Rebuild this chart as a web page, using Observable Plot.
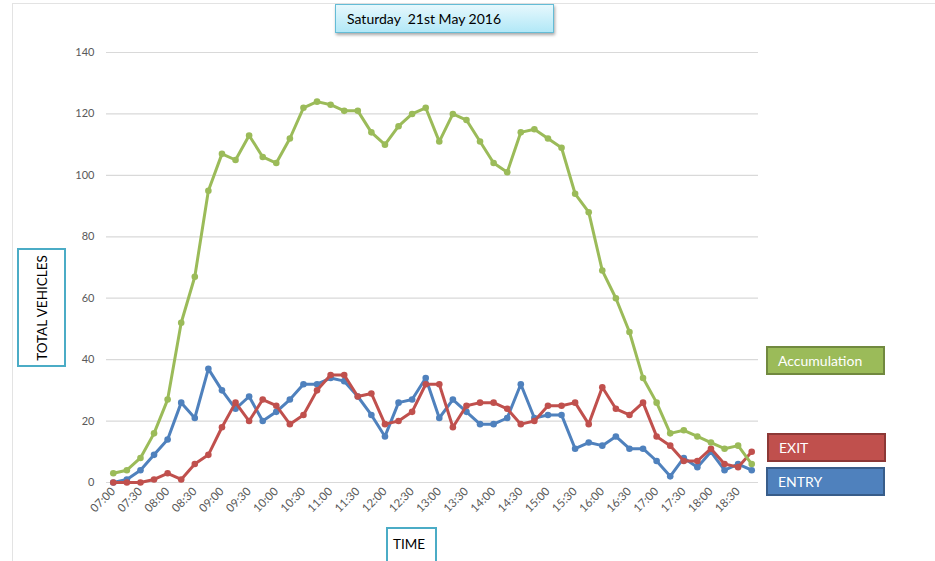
<!DOCTYPE html>
<html>
<head>
<meta charset="utf-8">
<script src="https://cdn.jsdelivr.net/npm/d3@7"></script>
<script src="https://cdn.jsdelivr.net/npm/@observablehq/plot@0.6"></script>
<style>
  html, body { margin: 0; padding: 0; background: #fff; }
  #wrap { position: relative; width: 935px; height: 561px; overflow: hidden; font-family: Lato, "Open Sans", sans-serif; }
  #frame { position: absolute; left: 12px; top: 3px; width: 940px; height: 600px; border-left: 1px solid #e3e3e3; border-top: 1px solid #e3e3e3; }
  #chart { position: absolute; left: 0; top: 0; }
  .box { position: absolute; box-sizing: border-box; font-size: 14px; }
  #title { left: 335px; top: 4px; width: 219px; height: 29px; border: 1px solid #64bcd6;
           background: linear-gradient(#e6f8fd, #b2e8f7); box-shadow: 1px 2px 3px rgba(0,0,0,0.35);
           color: #000; padding: 5px 0 0 11px; }
  #ylab { left: 17px; top: 248px; width: 49px; height: 119px; border: 2px solid #4bacc6; background: #fff; font-size: 13.5px; }
  #ylab span { position: absolute; left: 50%; top: 50%; transform: translate(-50%, -50%) rotate(-90deg); white-space: nowrap; color: #000; }
  #xlab { left: 386px; top: 527px; width: 51px; height: 40px; border: 2px solid #4bacc6; background: #fff; color: #000; padding: 7px 0 0 5px; font-size: 13.5px; }
  .leg { color: #fff; padding: 4px 0 0 10px; border: 2px solid; }
  #legA { left: 766px; top: 346px; width: 119px; height: 29px; background: #9bbb59; border-color: #71893f; }
  #legX { left: 767px; top: 433px; width: 119px; height: 29px; background: #c0504d; border-color: #8c3836; }
  #legE { left: 766px; top: 467px; width: 119px; height: 29px; background: #4f81bd; border-color: #385d8a; }
</style>
</head>
<body>
<div id="wrap">
  <div id="frame"></div>
  <div id="chart"></div>
  <div class="box" id="title">Saturday&nbsp; 21st May 2016</div>
  <div class="box" id="ylab"><span>TOTAL VEHICLES</span></div>
  <div class="box" id="xlab">TIME</div>
  <div class="box leg" id="legA">Accumulation</div>
  <div class="box leg" id="legX">EXIT</div>
  <div class="box leg" id="legE">ENTRY</div>
</div>
<script>
const times = ["07:00","07:15","07:30","07:45","08:00","08:15","08:30","08:45",
  "09:00","09:15","09:30","09:45","10:00","10:15","10:30","10:45",
  "11:00","11:15","11:30","11:45","12:00","12:15","12:30","12:45",
  "13:00","13:15","13:30","13:45","14:00","14:15","14:30","14:45",
  "15:00","15:15","15:30","15:45","16:00","16:15","16:30","16:45",
  "17:00","17:15","17:30","17:45","18:00","18:15","18:30","18:45"];
const tickLabels = ["07:00","07:30","08:00","08:30","09:00","09:30","10:00","10:30",
  "11:00","11:30","12:00","12:30","13:00","13:30","14:00","14:30",
  "15:00","15:30","16:00","16:30","17:00","17:30","18:00","18:30"];
const yTicks = [0, 20, 40, 60, 80, 100, 120, 140];
const accumulation = [3,4,8,16,27,52,67,95,107,105,113,106,104,112,122,124,123,121,121,114,110,116,120,122,111,120,118,111,104,101,114,115,112,109,94,88,69,60,49,34,26,16,17,15,13,11,12,6];
const entry = [0,1,4,9,14,26,21,37,30,24,28,20,23,27,32,32,34,33,28,22,15,26,27,34,21,27,23,19,19,21,32,21,22,22,11,13,12,15,11,11,7,2,8,5,10,4,6,4];
const exit = [0,0,0,1,3,1,6,9,18,26,20,27,25,19,22,30,35,35,28,29,19,20,23,32,32,18,25,26,26,24,19,20,25,25,26,19,31,24,22,26,15,12,7,7,11,6,5,10];

const seriesDefs = [
  {name: "ENTRY", values: entry, color: "#4f81bd"},
  {name: "EXIT", values: exit, color: "#c0504d"},
  {name: "Accumulation", values: accumulation, color: "#9bbb59"}
];

const tickIdx = tickLabels.map(l => times.indexOf(l));

const marks = [
  Plot.gridY(yTicks, {stroke: "#d9d9d9", strokeOpacity: 1, strokeWidth: 1.2}),
  Plot.axisY({ticks: yTicks, tickSize: 0, tickPadding: 12, label: null, fontSize: 11}),
  Plot.axisX({ticks: tickIdx, tickFormat: i => times[i], tickSize: 0, tickPadding: 7, tickRotate: -45, label: null, fontSize: 11.5})
];
for (const s of seriesDefs) {
  const data = times.map((t, i) => ({i, t, v: s.values[i]}));
  marks.push(Plot.line(data, {x: "i", y: "v", stroke: s.color, strokeWidth: 3, curve: "linear"}));
  marks.push(Plot.dot(data, {x: "i", y: "v", fill: s.color, r: 3.3, stroke: "none"}));
}

const chart = Plot.plot({
  width: 935,
  height: 561,
  marginTop: 52,
  marginBottom: 79,
  marginLeft: 106,
  marginRight: 177,
  x: {type: "linear", domain: [-0.5, times.length - 0.5]},
  y: {domain: [0, 140]},
  style: {fontFamily: "Lato, 'Open Sans', sans-serif", fontSize: "11px", color: "#595959", background: "transparent"},
  marks
});
document.getElementById("chart").appendChild(chart);
</script>
</body>
</html>
